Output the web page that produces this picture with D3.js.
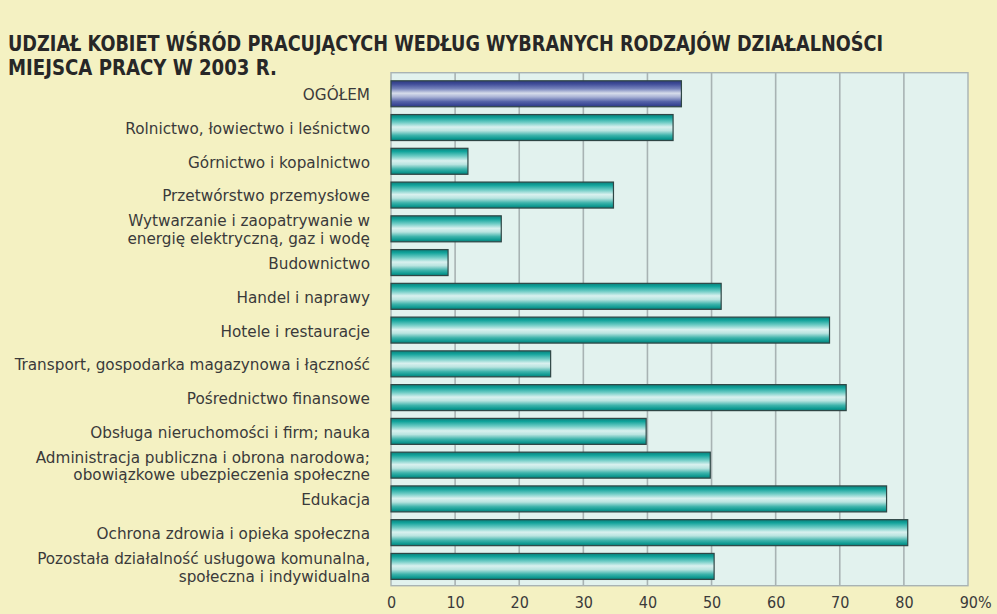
<!DOCTYPE html>
<html><head><meta charset="utf-8">
<script src="https://cdn.jsdelivr.net/npm/d3@7"></script>
<style>
html,body{margin:0;padding:0;background:#f4f1c2;}
svg{display:block;}
.lbl{font-family:"Liberation Sans Narrow","DejaVu Sans Condensed","Arial Narrow",sans-serif;font-stretch:condensed;}
</style></head>
<body>
<svg id="c" width="997" height="614"></svg>
<script>
const titleLines = ["UDZIAŁ KOBIET WŚRÓD PRACUJĄCYCH WEDŁUG WYBRANYCH RODZAJÓW DZIAŁALNOŚCI", "MIEJSCA PRACY W 2003 R."];
const categories = [
  "OGÓŁEM",
  "Rolnictwo, łowiectwo i leśnictwo",
  "Górnictwo i kopalnictwo",
  "Przetwórstwo przemysłowe",
  "Wytwarzanie i zaopatrywanie w|energię elektryczną, gaz i wodę",
  "Budownictwo",
  "Handel i naprawy",
  "Hotele i restauracje",
  "Transport, gospodarka magazynowa i łączność",
  "Pośrednictwo finansowe",
  "Obsługa nieruchomości i firm; nauka",
  "Administracja publiczna i obrona narodowa;|obowiązkowe ubezpieczenia społeczne",
  "Edukacja",
  "Ochrona zdrowia i opieka społeczna",
  "Pozostała działalność usługowa komunalna,|społeczna i indywidualna"
];
const values = [45.3, 44.0, 12.0, 34.7, 17.2, 8.9, 51.5, 68.4, 24.9, 71.0, 39.8, 49.8, 77.3, 80.6, 50.4];
const ticks = [0, 10, 20, 30, 40, 50, 60, 70, 80, 90];

const svg = d3.select("#c");
const W = 997, H = 614;
svg.append("rect").attr("width", W).attr("height", H).attr("fill", "#f4f1c2");

const plot = {left: 391, right: 968, top: 72.7, bottom: 585.7};
const x = d3.scaleLinear().domain([0, 90]).range([plot.left, plot.right]);
const y = d3.scaleBand().domain(categories).range([76.9, 583.3]).paddingInner(0.23).paddingOuter(0.115);

// gradients
const defs = svg.append("defs");
function grad(id, stops) {
  const g = defs.append("linearGradient").attr("id", id).attr("x1", 0).attr("y1", 0).attr("x2", 0).attr("y2", 1);
  stops.forEach(s => g.append("stop").attr("offset", s[0]).attr("stop-color", s[1]));
}
grad("teal", [[0, "#0b7f7a"], [0.12, "#12a39b"], [0.3, "#6ccbc4"], [0.48, "#d9f1ef"], [0.62, "#b9e4e0"], [0.8, "#3db3ab"], [0.92, "#0f9a92"], [1, "#0a7a74"]]);
grad("blue", [[0, "#2e3a80"], [0.12, "#3f4c98"], [0.3, "#7582bb"], [0.48, "#d6dcea"], [0.62, "#aab3d6"], [0.8, "#5563a8"], [0.92, "#3c4996"], [1, "#2c387e"]]);

// title
const title = svg.append("g").attr("class", "lbl");
title.selectAll("text").data(titleLines).join("text")
  .attr("x", 8).attr("y", (d, i) => 51 + i * 23.5)
  .attr("font-size", 22).attr("font-weight", "bold").attr("fill", "#272727")
  .attr("textLength", (d, i) => i === 0 ? 875 : 269).attr("lengthAdjust", "spacingAndGlyphs")
  .text(d => d);

// plot background
svg.append("rect").attr("x", plot.left).attr("y", plot.top)
  .attr("width", plot.right - plot.left).attr("height", plot.bottom - plot.top)
  .attr("fill", "#e2f2ee");

// grid
svg.append("g").selectAll("line").data(ticks.slice(1, -1)).join("line")
  .attr("x1", d => x(d)).attr("x2", d => x(d))
  .attr("y1", plot.top).attr("y2", plot.bottom)
  .attr("stroke", "#a8b3b3").attr("stroke-width", 1.6);

// border
svg.append("rect").attr("x", plot.left).attr("y", plot.top)
  .attr("width", plot.right - plot.left).attr("height", plot.bottom - plot.top)
  .attr("fill", "none").attr("stroke", "#a9b3b3").attr("stroke-width", 1.4);

// bars
svg.append("g").selectAll("rect").data(categories).join("rect")
  .attr("x", x(0)).attr("y", d => y(d))
  .attr("width", (d, i) => x(values[i]) - x(0)).attr("height", y.bandwidth())
  .attr("fill", (d, i) => i === 0 ? "url(#blue)" : "url(#teal)")
  .attr("stroke", "#2f4645").attr("stroke-width", 1.2);

// category labels
const lab = svg.append("g").attr("class", "lbl");
categories.forEach(c => {
  const lines = c.split("|");
  const cy = y(c) + y.bandwidth() / 2 + 1;
  const lh = 17.5;
  lines.forEach((t, j) => {
    const el = lab.append("text").attr("x", 370)
      .attr("y", cy + (j - (lines.length - 1) / 2) * lh)
      .attr("dy", "0.36em").attr("text-anchor", "end")
      .attr("font-size", 15).attr("fill", "#3a3a3a").text(t);
    const w = el.node().getComputedTextLength();
    el.attr("textLength", w * 1.13).attr("lengthAdjust", "spacingAndGlyphs");
  });
});

// x axis
const axis = d3.axisBottom(x).tickValues(ticks).tickSize(0).tickPadding(0)
  .tickFormat(d => d === 90 ? "90%" : d);
const ag = svg.append("g").attr("transform", `translate(0,${plot.bottom})`).call(axis);
ag.select(".domain").remove();
ag.selectAll("text").attr("class", "lbl").attr("font-size", 16).attr("fill", "#3a3a3a")
  .attr("y", 22.5).attr("dy", 0);
ag.selectAll(".tick").filter(d => d === 90).select("text")
  .attr("text-anchor", "start").attr("dx", "-0.55em");
</script>
</body></html>
